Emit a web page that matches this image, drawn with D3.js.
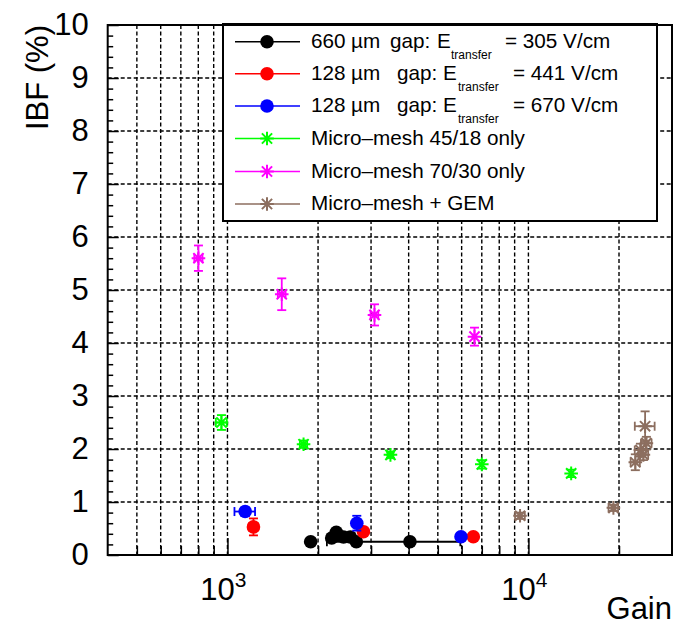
<!DOCTYPE html>
<html>
<head>
<meta charset="utf-8">
<script src="https://cdn.jsdelivr.net/npm/d3@7"></script>
<style>
  body { margin: 0; background: #fff; }
  svg { display: block; }
  text { font-family: "Liberation Sans", Arial, Helvetica, sans-serif; }
</style>
</head>
<body>
<div id="chart"></div>
<script>
// IBF vs gain
var blackGain = [1890, 2220, 2300, 2430, 2560, 2680, 4040];
var blackIBF = [0.25, 0.32, 0.43, 0.34, 0.34, 0.25, 0.25];
var blackGainErr = [0, 0, 0, 0, 0, 0, 1900];
var blackIBFErr = [0.02, 0.02, 0.02, 0.02, 0.02, 0.02, 0.02];

var redGain = [1220, 2830, 6560];
var redIBF = [0.53, 0.44, 0.345];
var redGainErr = [40, 0, 0];
var redIBFErr = [0.16, 0.04, 0.03];

var blueGain = [1145, 2690, 5970];
var blueIBF = [0.82, 0.60, 0.345];
var blueGainErr = [90, 0, 0];
var blueIBFErr = [0.08, 0.14, 0.03];

var greenGain = [955, 1790, 3480, 7000, 13870];
var greenIBF = [2.50, 2.09, 1.89, 1.71, 1.54];
var greenGainErr = [40, 50, 80, 100, 250];
var greenIBFErr = [0.14, 0.07, 0.06, 0.08, 0.07];

var magentaGain = [801, 1515, 3080, 6620];
var magentaIBF = [5.60, 4.92, 4.53, 4.12];
var magentaGainErr = [25, 45, 90, 150];
var magentaIBFErr = [0.24, 0.30, 0.20, 0.17];

var brownGain = [9380, 19160, 24420, 24660, 23560, 24100, 22660];
var brownIBF = [0.74, 0.89, 2.43, 2.11, 1.98, 1.89, 1.75];
var brownGainErr = [350, 700, 1850, 1000, 1000, 900, 800];
var brownIBFErr = [0.06, 0.06, 0.28, 0.12, 0.12, 0.10, 0.15];

var yTicks = [0, 1, 2, 3, 4, 5, 6, 7, 8, 9, 10];
var xMajor = [1000, 10000];
var xMinor = [500, 600, 700, 800, 900, 2000, 3000, 4000, 5000, 6000, 7000, 8000, 9000, 20000];

// legend texts; E_transfer entries are split in words so they can be spaced like the original
var series = [
    {gain: blackGain, ibf: blackIBF, gErr: blackGainErr, iErr: blackIBFErr, color: "#000000", marker: "circle",
     label: ["660", "\u00b5m", "gap:", "E", "transfer", "= 305 V/cm"]},
    {gain: redGain, ibf: redIBF, gErr: redGainErr, iErr: redIBFErr, color: "#ff0000", marker: "circle",
     label: ["128", "\u00b5m", "gap:", "E", "transfer", "= 441 V/cm"]},
    {gain: blueGain, ibf: blueIBF, gErr: blueGainErr, iErr: blueIBFErr, color: "#0000ff", marker: "circle",
     label: ["128", "\u00b5m", "gap:", "E", "transfer", "= 670 V/cm"]},
    {gain: greenGain, ibf: greenIBF, gErr: greenGainErr, iErr: greenIBFErr, color: "#00ff00", marker: "star",
     label: ["Micro\u2013mesh 45/18 only"]},
    {gain: magentaGain, ibf: magentaIBF, gErr: magentaGainErr, iErr: magentaIBFErr, color: "#ff00ff", marker: "star",
     label: ["Micro\u2013mesh 70/30 only"]},
    {gain: brownGain, ibf: brownIBF, gErr: brownGainErr, iErr: brownIBFErr, color: "#8c6e5f", marker: "star",
     label: ["Micro\u2013mesh + GEM"]}
];

var W = 675, H = 628;
var frame = {left: 107.7, right: 672, top: 25, bottom: 555};

var svg = d3.select("#chart")
    .append("svg")
        .attr("width", W)
        .attr("height", H);

var xScale = d3.scaleLog()
    .domain([400, 30000])
    .range([frame.left, frame.right]);

var yScale = d3.scaleLinear()
    .domain([0, 10])
    .range([frame.bottom, frame.top]);

// grid
var grid = svg.append("g")
    .attr("stroke", "#000")
    .attr("stroke-width", 1.4)
    .attr("stroke-dasharray", "4,2.5");

grid.selectAll(".gx")
    .data(xMajor.concat(xMinor))
    .enter()
    .append("line")
        .attr("x1", d => xScale(d))
        .attr("x2", d => xScale(d))
        .attr("y1", frame.top)
        .attr("y2", frame.bottom);

grid.selectAll(".gy")
    .data(yTicks.slice(1, -1))
    .enter()
    .append("line")
        .attr("x1", frame.left)
        .attr("x2", frame.right)
        .attr("y1", d => yScale(d))
        .attr("y2", d => yScale(d));

// y axis ticks (major + minor inside the frame)
var yAxis = d3.axisLeft(yScale)
    .tickValues(yTicks)
    .tickSize(-11)
    .tickPadding(19)
    .tickFormat(d3.format("d"));
var yG = svg.append("g")
    .attr("transform", "translate(" + frame.left + ",0)")
    .call(yAxis);
yG.select(".domain").remove();
yG.selectAll("line").attr("stroke-width", 1.5);
yG.selectAll("text")
    .attr("font-size", "31px")
    .attr("font-family", "Liberation Sans, Arial, sans-serif")
    .attr("fill", "#000");

var yMinor = d3.range(0, 10.01, 0.2).filter(d => Math.abs(d - Math.round(d)) > 0.01);
var yMinorAxis = d3.axisLeft(yScale).tickValues(yMinor).tickSize(-5.5).tickFormat("");
var yMG = svg.append("g")
    .attr("transform", "translate(" + frame.left + ",0)")
    .call(yMinorAxis);
yMG.select(".domain").remove();
yMG.selectAll("line").attr("stroke-width", 1.5);

// x axis ticks
var xAxis = d3.axisBottom(xScale).tickValues(xMajor).tickSize(-17).tickFormat("");
var xG = svg.append("g")
    .attr("transform", "translate(0," + frame.bottom + ")")
    .call(xAxis);
xG.select(".domain").remove();
xG.selectAll("line").attr("stroke-width", 1.5);

var xMinorAxis = d3.axisBottom(xScale).tickValues(xMinor).tickSize(-9).tickFormat("");
var xMG = svg.append("g")
    .attr("transform", "translate(0," + frame.bottom + ")")
    .call(xMinorAxis);
xMG.select(".domain").remove();
xMG.selectAll("line").attr("stroke-width", 1.5);

// x tick labels 10^n
var xLab = svg.append("g");
xMajor.forEach(function(v) {
    var t = xLab.append("text")
        .attr("x", xScale(v) - 4)
        .attr("y", 600)
        .attr("text-anchor", "middle")
        .attr("font-size", "31px")
        .attr("fill", "#000");
    t.append("tspan").text("10");
    t.append("tspan")
        .attr("font-size", "21px")
        .attr("dy", -13)
        .text(String(Math.round(Math.log10(v))));
});

// axis titles
svg.append("text")
    .attr("x", frame.right)
    .attr("y", 619)
    .attr("text-anchor", "end")
    .attr("font-size", "31px")
    .attr("fill", "#000")
    .text("Gain");

svg.append("text")
    .attr("transform", "translate(48," + frame.top + ") rotate(-90)")
    .attr("text-anchor", "end")
    .attr("font-size", "31px")
    .attr("fill", "#000")
    .text("IBF (%)");

// markers
function star(g, cx, cy, s, color) {
    var p = "M" + (cx - s) + "," + cy + "H" + (cx + s) +
        "M" + cx + "," + (cy - s) + "V" + (cy + s) +
        "M" + (cx - s * 0.75) + "," + (cy - s * 0.75) + "L" + (cx + s * 0.75) + "," + (cy + s * 0.75) +
        "M" + (cx - s * 0.75) + "," + (cy + s * 0.75) + "L" + (cx + s * 0.75) + "," + (cy - s * 0.75);
    g.append("path").attr("d", p).attr("stroke", color).attr("stroke-width", 2).attr("fill", "none");
}

var plot = svg.append("g");
series.forEach(function(s) {
    var g = plot.append("g");
    var pts = s.gain.map((v, i) => ({g: v, y: s.ibf[i], ge: s.gErr[i], ye: s.iErr[i]}));
    pts.forEach(function(d) {
        var cx = xScale(d.g), cy = yScale(d.y);
        var cap = 4.5;
        var eb = g.append("g").attr("stroke", s.color).attr("stroke-width", 1.8);
        if (d.ye > 0) {
            var y1 = yScale(d.y + d.ye), y2 = yScale(d.y - d.ye);
            eb.append("line").attr("x1", cx).attr("x2", cx).attr("y1", y1).attr("y2", y2);
            if (y2 - y1 > 6) {
                eb.append("line").attr("x1", cx - cap).attr("x2", cx + cap).attr("y1", y1).attr("y2", y1);
                eb.append("line").attr("x1", cx - cap).attr("x2", cx + cap).attr("y1", y2).attr("y2", y2);
            }
        }
        if (d.ge > 0) {
            var x1 = xScale(d.g - d.ge), x2 = xScale(d.g + d.ge);
            eb.append("line").attr("x1", x1).attr("x2", x2).attr("y1", cy).attr("y2", cy);
            if (x2 - x1 > 6) {
                eb.append("line").attr("x1", x1).attr("x2", x1).attr("y1", cy - cap).attr("y2", cy + cap);
                eb.append("line").attr("x1", x2).attr("x2", x2).attr("y1", cy - cap).attr("y2", cy + cap);
            }
        }
        if (s.marker === "circle") {
            g.append("circle").attr("cx", cx).attr("cy", cy).attr("r", 6.8).attr("fill", s.color);
        } else {
            star(g, cx, cy, 6.8, s.color);
        }
    });
});

// legend
var leg = svg.append("g");
leg.append("rect")
    .attr("x", 223)
    .attr("y", 24)
    .attr("width", 434)
    .attr("height", 197)
    .attr("fill", "#fff")
    .attr("stroke", "#000")
    .attr("stroke-width", 2);

var rowY = [41.7, 73.8, 106, 138.5, 171.5, 204];
series.forEach(function(s, i) {
    var cy = rowY[i];
    leg.append("line")
        .attr("x1", 235).attr("x2", 300)
        .attr("y1", cy).attr("y2", cy)
        .attr("stroke", s.color)
        .attr("stroke-width", 1.5);
    if (s.marker === "circle") {
        leg.append("circle").attr("cx", 267).attr("cy", cy).attr("r", 6.8).attr("fill", s.color);
    } else {
        star(leg, 267, cy, 6.8, s.color);
    }
    var t = leg.append("text")
        .attr("x", 311)
        .attr("y", cy + 6)
        .attr("font-size", "20.7px")
        .attr("fill", "#000");
    if (s.label.length === 1) {
        t.text(s.label[0]);
    } else {
        // word positions taken from the original legend
        var xs = i === 0 ? [311, 351, 390, 437, 451, 505] : [311, 351, 397, 443, 458, 513];
        s.label.forEach(function(w, k) {
            var ts = t.append("tspan").attr("x", xs[k]).text(w);
            if (k === 4) ts.attr("font-size", "12px").attr("dy", 11);
            if (k === 5) ts.attr("dy", -11);
        });
    }
});

// frame
svg.append("rect")
    .attr("x", frame.left)
    .attr("y", frame.top)
    .attr("width", frame.right - frame.left)
    .attr("height", frame.bottom - frame.top)
    .attr("fill", "none")
    .attr("stroke", "#000")
    .attr("stroke-width", 2);
</script>
</body>
</html>
